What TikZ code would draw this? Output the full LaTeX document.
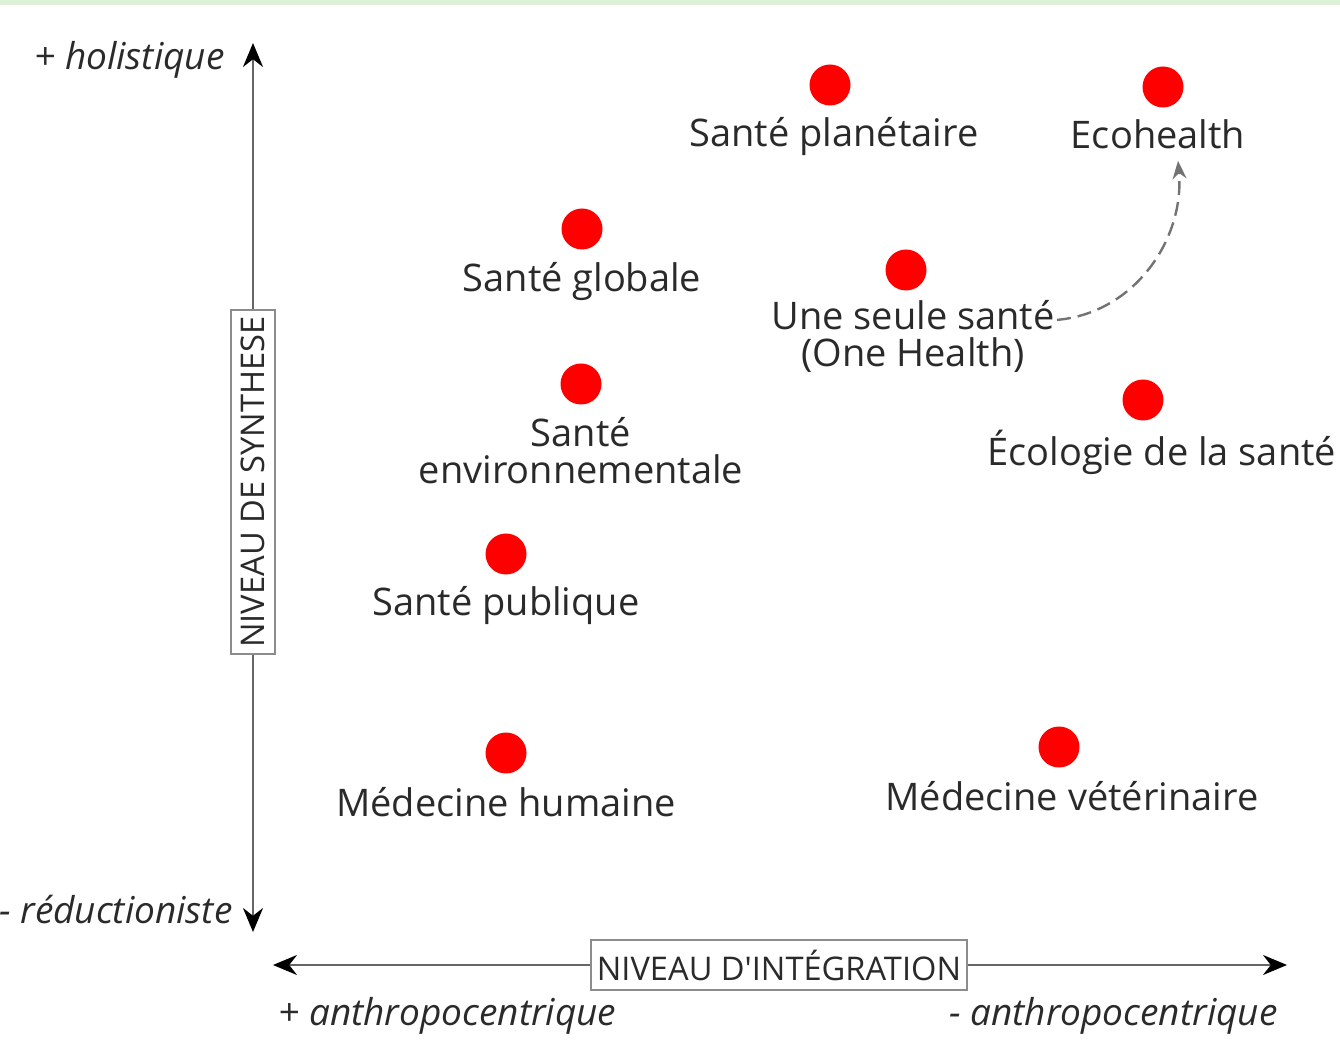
\documentclass[tikz,border=0pt]{standalone}
\usepackage{fontspec}
\setmainfont{Open Sans}
\usetikzlibrary{arrows.meta, calc, positioning}
\definecolor{punkt}{HTML}{FF0000}
\definecolor{band}{HTML}{DDF0D8}
\definecolor{schrift}{HTML}{2A2A2A}

\begin{document}
\begin{tikzpicture}[x=0.5pt, y=-0.5pt,
    dot/.style={circle, fill=punkt, minimum size=20.5pt, inner sep=0pt},
    lbl/.style={font=\fontsize{19}{18.5}\selectfont, text=schrift, align=center, inner sep=1pt},
    pole/.style={font=\fontsize{18.5}{20}\selectfont\itshape, text=schrift, inner sep=1pt},
    achse/.style={draw=black!60, line width=1.2pt},
    spitze/.style={-{Stealth[length=12pt, width=10pt, black]}},
    titel/.style={draw=black!45, line width=0.9pt, fill=white, font=\fontsize{16.3}{18}\selectfont, text=schrift, inner xsep=3pt, inner ysep=5pt}]
      \useasboundingbox (0,0) rectangle (1340,1053);
      \clip (0,0) rectangle (1340,1053);
      \fill[band] (0,0) rectangle (1340,5);

      % --- Achsen ---
      \coordinate (ytop) at (253,43);
      \coordinate (ybot) at (253,932);
      \coordinate (xlinks) at (273,965);
      \coordinate (xrechts) at (1287,965);
      \node[titel, rotate=90] (ysyn) at (253,482) {NIVEAU DE SYNTHESE};
      \node[titel] (xint) at (779,965) {NIVEAU D\textquotesingle INTÉGRATION};
      \draw[achse, spitze] (ysyn.east) -- (ytop);
      \draw[achse, spitze] (ysyn.west) -- (ybot);
      \draw[achse, spitze] (xint.west) -- (xlinks);
      \draw[achse, spitze] (xint.east) -- (xrechts);

      \node[pole, anchor=east] (holi) at (227,60) {+ holistique};
      \node[pole, anchor=east] (reduk) at (235,910) {- réductioniste};
      \node[pole, anchor=west] (anthro) at (276,1016) {+ anthropocentrique};
      \node[pole, anchor=east] (nonanthro) at (1280,1016) {- anthropocentrique};

      % --- Punkte ---
      \node[dot] (planet) at (830,85) {};
      \node[dot] (eco) at (1163,87) {};
      \node[dot] (glob) at (582,229) {};
      \node[dot] (one) at (906,270) {};
      \node[dot] (env) at (581,384) {};
      \node[dot] (ecol) at (1143,400) {};
      \node[dot] (pub) at (506,554) {};
      \node[dot] (hum) at (506,753) {};
      \node[dot] (vet) at (1059,747) {};

      % --- Beschriftungen ---
      \node[lbl, below=4.5pt of planet, xshift=2pt] (planetL) {Santé planétaire};
      \node[lbl, below=4.5pt of eco, xshift=-2.5pt] (ecoL) {Ecohealth};
      \node[lbl, below=5pt of glob] (globL) {Santé globale};
      \node[lbl, below=3.5pt of one, xshift=3.5pt] (oneL) {Une seule santé\\(One Health)};
      \node[lbl, below=5pt of env] (envL) {Santé\\environnementale};
      \node[lbl, below=3.5pt of ecol, anchor=north west, xshift=-79pt] (ecolL) {Écologie de la santé};
      \node[lbl, below=4.5pt of pub] (pubL) {Santé publique};
      \node[lbl, below=5.5pt of hum] (humL) {Médecine humaine};
      \node[lbl, below=5.5pt of vet, xshift=6.5pt] (vetL) {Médecine vétérinaire};

      % Pfeil
      \draw[dash pattern=on 7pt off 3.5pt, draw=black!55, line width=1.2pt, -{Stealth[length=9pt, width=7pt]}]
        ($(oneL.north east)+(0,22)$) to[out=5, in=-85] ($(ecoL.south)+(20,10)$);
\end{tikzpicture}
\end{document}
